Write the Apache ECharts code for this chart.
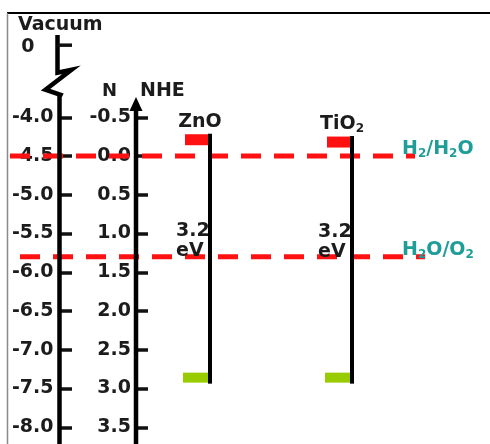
<!DOCTYPE html>
<html><head><meta charset="utf-8">
<script src="https://cdn.jsdelivr.net/npm/echarts@6/dist/echarts.min.js"></script>
<style>html,body{margin:0;padding:0;background:#fff}#c{width:490px;height:444px}</style>
</head><body><div id="c"></div>
<script>
// ---------------- data ----------------
const nheTicks = [-0.5, 0.0, 0.5, 1.0, 1.5, 2.0, 2.5, 3.0, 3.5];
const vacuumTicks = [-4.0, -4.5, -5.0, -5.5, -6.0, -6.5, -7.0, -7.5, -8.0];
const vacuumBreakLabel = '0';
const vacuumToNheOffset = 4.5;            // E(NHE) = -E(vacuum) - 4.5
const materials = ['ZnO', 'TiO₂'];
const cbNHE = [-0.21, -0.18];             // conduction band edge (V vs NHE)
const vbNHE = [2.86, 2.86];               // valence band edge (V vs NHE)
const bandGapValues = ['3.2', '3.2'];
const bandGapUnit = 'eV';
const redoxNames = ['H₂/H₂O', 'H₂O/O₂'];
const redoxNHE = [0.0, 1.3];
const axisTitleVacuum = 'Vacuum';
const axisTitleNhe = ['N', 'NHE'];

// ---------------- layout / style ----------------
const L = {
  y0: 156, ppu: 77.5, nheMin: -1.6, nheMax: 3.9,
  vacX: 59.5, nheX: 136, matX: [210, 352],
  redoxX0: [10, 20], redoxX1: [415, 425], redoxLabelX: 402,
  vacTopNhe: -1.56, vacBreakNhe: -1.1, vacZeroNhe: -1.43, nheArrowTipNhe: -0.76
};
const FONT = 'DejaVu Sans';
const DARK = '#1c1c1c';
const TEAL = '#1f9d98';
const RED = '#ff1111';
const GREEN = '#99cc00';

function richText(str, color, size, subSize) {
  const subMap = {'₀':'0','₁':'1','₂':'2','₃':'3','₄':'4'};
  let out = '', buf = '';
  for (const ch of str) {
    if (subMap[ch]) { if (buf) { out += '{n|' + buf + '}'; buf = ''; } out += '{s|' + subMap[ch] + '}'; }
    else buf += ch;
  }
  if (buf) out += '{n|' + buf + '}';
  return {
    text: out,
    rich: {
      n: { fill: color, color: color, fontSize: size, fontWeight: 'bold', fontFamily: FONT, lineHeight: 22 },
      s: { fill: color, color: color, fontSize: subSize, fontWeight: 'bold', fontFamily: FONT, lineHeight: 15, verticalAlign: 'bottom' }
    }
  };
}

const gridTop = L.y0 + L.nheMin * L.ppu;
const gridH = (L.nheMax - L.nheMin) * L.ppu;

const labelStyle = { fontFamily: FONT, fontWeight: 'bold', fontSize: 19, color: DARK };

const chart = echarts.init(document.getElementById('c'), null, { renderer: 'canvas' });
chart.setOption({
  animation: false,
  backgroundColor: '#fff',
  grid: { left: 0, top: gridTop, width: 490, height: gridH, containLabel: false, outerBoundsMode: 'none' },
  xAxis: { type: 'value', min: 0, max: 490, show: false },
  yAxis: [
    { // NHE axis
      type: 'value', inverse: true, min: L.nheMin, max: L.nheMax, position: 'left', offset: -L.nheX,
      axisLine: { show: false, onZero: false }, splitLine: { show: false },
      axisTick: { show: true, inside: true, length: 12, customValues: nheTicks, lineStyle: { color: '#111', width: 3.5 } },
      axisLabel: Object.assign({ customValues: nheTicks, margin: 5, formatter: v => v.toFixed(1) }, labelStyle)
    },
    { // Vacuum axis
      type: 'value', min: -(L.nheMax + vacuumToNheOffset), max: -(L.nheMin + vacuumToNheOffset), position: 'left', offset: -L.vacX,
      axisLine: { show: false, onZero: false }, splitLine: { show: false },
      axisTick: { show: true, inside: true, length: 12.5, customValues: vacuumTicks, lineStyle: { color: '#111', width: 3.5 } },
      axisLabel: Object.assign({ customValues: vacuumTicks, margin: 6, formatter: v => v.toFixed(1) }, labelStyle)
    }
  ],
  graphic: [
    { type: 'line', silent: true, shape: { x1: 7, y1: 13, x2: 490, y2: 13 }, style: { stroke: '#000', lineWidth: 2 } },
    { type: 'line', silent: true, shape: { x1: 7.5, y1: 13, x2: 7.5, y2: 444 }, style: { stroke: '#8a8a8a', lineWidth: 1.5 } }
  ],
  series: [
    { // redox potential lines
      type: 'custom', silent: true, z: 3, xAxisIndex: 0, yAxisIndex: 0,
      data: redoxNHE.map((v, i) => [i, v]),
      renderItem: function (params, api) {
        const i = api.value(0);
        const y = api.coord([0, api.value(1)])[1];
        const t = richText(redoxNames[i], TEAL, 19, 12);
        return { type: 'group', children: [
          { type: 'line', shape: { x1: L.redoxX0[i], y1: y, x2: L.redoxX1[i], y2: y },
            style: { stroke: RED, lineWidth: 5, lineDash: [20, 13] } },
          { type: 'text', x: L.redoxLabelX, y: y - 7, z2: 10,
            style: { text: t.text, rich: t.rich, align: 'left', verticalAlign: 'middle' } }
        ]};
      }
    },
    { // band edges
      type: 'custom', silent: true, z: 4, xAxisIndex: 0, yAxisIndex: 0,
      data: materials.map((m, i) => [L.matX[i], cbNHE[i], vbNHE[i], i]),
      renderItem: function (params, api) {
        const x = api.value(0), i = api.value(3);
        const p1 = api.coord([x, api.value(1)]);
        const p2 = api.coord([x, api.value(2)]);
        const name = richText(materials[i], DARK, 19, 12);
        return { type: 'group', children: [
          { type: 'rect', shape: { x: p1[0] - 25, y: p1[1] - 5.5, width: 27, height: 11 }, style: { fill: RED } },
          { type: 'rect', shape: { x: p2[0] - 27, y: p2[1] - 5, width: 29, height: 10 }, style: { fill: GREEN } },
          { type: 'line', shape: { x1: p1[0], y1: p1[1] - 6, x2: p2[0], y2: p2[1] + 6 }, style: { stroke: '#000', lineWidth: 4 } },
          { type: 'text', x: p1[0] - 10, y: p1[1] - 18,
            style: { text: name.text, rich: name.rich, align: 'center', verticalAlign: 'middle' } },
          { type: 'text', x: p1[0] - 34, y: (p1[1] + p2[1]) / 2 - 18,
            style: { text: bandGapValues[i] + '\n' + bandGapUnit, fill: DARK, fontFamily: FONT, fontWeight: 'bold', fontSize: 19,
                     lineHeight: 20, align: 'left', verticalAlign: 'middle' } }
        ]};
      }
    },
    { // axis lines (vacuum with break, NHE with arrow) and titles
      type: 'custom', silent: true, z: 6, xAxisIndex: 0, yAxisIndex: 0,
      data: [[0, 0]],
      renderItem: function (params, api) {
        const top = api.coord([0, L.vacTopNhe])[1];
        const yb = api.coord([0, L.vacBreakNhe])[1];
        const bottom = api.coord([0, L.nheMax])[1];
        const y0v = api.coord([0, L.vacZeroNhe])[1];
        const tip = api.coord([0, L.nheArrowTipNhe])[1];
        const vx = L.vacX, nx = L.nheX;
        return { type: 'group', children: [
          { type: 'polyline', shape: { points: [[vx - 2, top], [vx - 2, yb + 2], [vx + 12, yb - 1], [vx - 14, yb + 19], [vx + 1, yb + 24], [vx, yb + 26], [vx, bottom]] },
            style: { stroke: '#000', lineWidth: 4.5, fill: null, lineJoin: 'miter' } },
          { type: 'line', shape: { x1: vx - 2, y1: y0v, x2: vx + 12.5, y2: y0v }, style: { stroke: '#111', lineWidth: 3.5 } },
          { type: 'text', x: vx - 25, y: y0v + 2,
            style: { text: vacuumBreakLabel, fill: DARK, fontFamily: FONT, fontWeight: 'bold', fontSize: 19, align: 'right', verticalAlign: 'middle' } },
          { type: 'line', shape: { x1: nx, y1: tip + 10, x2: nx, y2: bottom }, style: { stroke: '#000', lineWidth: 4.5 } },
          { type: 'polygon', shape: { points: [[nx, tip], [nx - 6.5, tip + 14], [nx + 6.5, tip + 14]] }, style: { fill: '#000' } },
          { type: 'text', x: 18, y: top - 10,
            style: { text: axisTitleVacuum, fill: DARK, fontFamily: FONT, fontWeight: 'bold', fontSize: 19, align: 'left', verticalAlign: 'middle' } },
          { type: 'text', x: nx - 19, y: tip - 6,
            style: { text: axisTitleNhe[0], fill: DARK, fontFamily: FONT, fontWeight: 'bold', fontSize: 18, align: 'right', verticalAlign: 'middle' } },
          { type: 'text', x: nx + 4, y: tip - 6,
            style: { text: axisTitleNhe[1], fill: DARK, fontFamily: FONT, fontWeight: 'bold', fontSize: 19, align: 'left', verticalAlign: 'middle' } }
        ]};
      }
    }
  ]
});
</script>
</body></html>
